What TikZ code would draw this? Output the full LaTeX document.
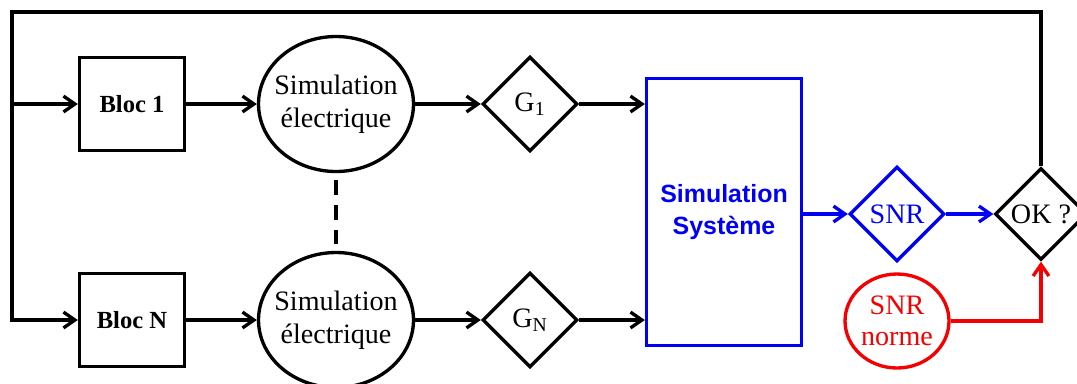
\documentclass[tikz,border=0pt]{standalone}
\usepackage{fontspec}
\setmainfont{Liberation Serif}
\newfontfamily\arialfont{Liberation Sans}
\usetikzlibrary{arrows.meta,shapes.geometric}

\definecolor{sysblue}{RGB}{0,0,245}
\definecolor{normred}{RGB}{245,0,0}

% one branch: y, name suffix, bloc label, gain index
\newcommand{\branche}[4]{%
  \node[bloc] (bloc#2) at (132,#1) {Bloc #3};
  \node[elec] (elec#2) at (336,#1) {Simulation\\électrique};
  \node[gain] (gain#2) at (530,#1) {G\textsubscript{#4}};
  \draw[->] (bloc#2) -- (elec#2);
  \draw[->] (elec#2) -- (gain#2);
  \draw[->] (gain#2.east) -- (gain#2.east -| sys.west);
}

\begin{document}
\begin{tikzpicture}[x=0.02cm, y=-0.02cm, line width=1.9pt,
    >={Straight Barb[length=6.5pt,width=9pt]},
    bloc/.style={draw, minimum width=2.1cm, minimum height=1.86cm,
      font=\fontsize{14}{16}\selectfont\bfseries},
    elec/.style={draw, ellipse, inner xsep=-4.6pt, inner ysep=0pt, minimum width=3.1cm,
      minimum height=2.7cm, align=center, font=\fontsize{16}{19}\selectfont},
    gain/.style={draw, diamond, shape aspect=1, inner sep=0pt,
      minimum size=1.9cm, font=\fontsize{16}{18}\selectfont},
    sysbox/.style={draw=sysblue, text=sysblue, minimum width=3.1cm,
      minimum height=5.34cm, align=center,
      font=\arialfont\bfseries\fontsize{14.2}{18}\selectfont}]
    \useasboundingbox (0,0) rectangle (1077,383);
    % System block
    \node[sysbox] (sys) at (724,212) {Simulation\\Système};
    % Branches
    \branche{104}{1}{1}{1}
    \branche{320}{N}{N}{N}
    \draw[dash pattern=on 0.3cm off 0.2cm] ([yshift=-4pt]elec1.south) -- ([yshift=4pt]elecN.north);
    % Output test
    \node[gain, draw=sysblue, text=sysblue] (snr) at (897,214) {SNR};
    \node[gain, minimum size=1.84cm] (ok) at (1041,214) {OK ?};
    \node[draw=normred, text=normred, ellipse, inner sep=0pt, minimum width=2.08cm,
      minimum height=1.88cm, align=center, font=\fontsize{16}{18}\selectfont]
      (norme) at (897,321) {SNR\\norme};
    \draw[->, sysblue] (sys.east |- snr.west) -- (snr.west);
    \draw[->, sysblue] (snr) -- (ok);
    \draw[->, normred] (norme.east) -| (ok.south);
    % Loop back
    \coordinate (coin) at (12,12);
    \coordinate (split1) at (12,104);
    \draw[->] (ok.north) |- (coin) |- (blocN.west);
    \draw[->] (split1) -- (bloc1.west);
  \end{tikzpicture}
\end{document}
